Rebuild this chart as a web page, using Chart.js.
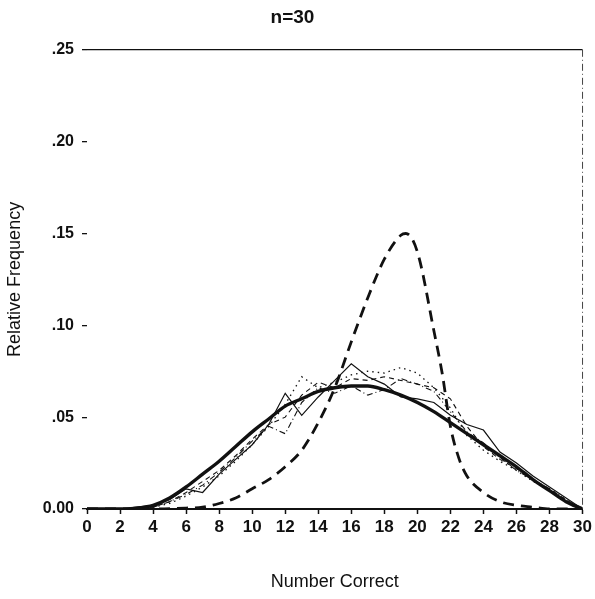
<!DOCTYPE html>
<html>
<head>
<meta charset="utf-8">
<script src="https://cdn.jsdelivr.net/npm/chart.js@4/dist/chart.umd.min.js"></script>
<style>
  html, body { margin: 0; padding: 0; background: #fff; }
  #wrap { width: 595px; height: 599px; }
</style>
</head>
<body>
<div id="wrap"><canvas id="chart" width="595" height="599"></canvas></div>
<script>
// number correct 0..30
var correct = [0,1,2,3,4,5,6,7,8,9,10,11,12,13,14,15,16,17,18,19,20,21,22,23,24,25,26,27,28,29,30];

// smooth fitted curve (thick solid)
var fitted = [0,0,0,0.0005,0.002,0.006,0.012,0.019,0.026,0.034,0.042,0.049,0.056,0.060,0.064,0.066,0.067,0.067,0.065,0.062,0.058,0.053,0.047,0.041,0.035,0.029,0.023,0.016,0.010,0.004,0];

// peaked curve (thick dashed)
var peakX = [0,2,4,6,7,8,9,10,11,12,13,14,15,16,17,18,19,19.3,20,21,21.5,22,22.5,23,24,25,26,27,28,30];
var peakY = [0,0,0,0.0005,0.001,0.003,0.006,0.011,0.016,0.023,0.032,0.047,0.066,0.091,0.115,0.136,0.149,0.150,0.140,0.097,0.074,0.045,0.028,0.018,0.009,0.004,0.002,0.001,0,0];

// observed runs (thin lines)
var obsSolid = [0,0,0,0.001,0.002,0.005,0.011,0.009,0.019,0.027,0.035,0.046,0.063,0.051,0.061,0.070,0.079,0.072,0.068,0.061,0.060,0.058,0.051,0.046,0.043,0.031,0.025,0.018,0.012,0.006,0];
var obsDashDot = [0,0,0,0,0.001,0.004,0.008,0.013,0.020,0.028,0.037,0.045,0.041,0.058,0.066,0.063,0.067,0.062,0.065,0.071,0.068,0.064,0.053,0.042,0.036,0.028,0.021,0.016,0.010,0.004,0];
var obsDotted = [0,0,0,0,0.001,0.003,0.007,0.012,0.018,0.026,0.035,0.045,0.057,0.072,0.066,0.069,0.073,0.075,0.074,0.077,0.074,0.066,0.055,0.040,0.032,0.026,0.021,0.015,0.011,0.005,0];
var obsDashed = [0,0,0,0,0.001,0.004,0.009,0.015,0.021,0.029,0.038,0.046,0.050,0.062,0.069,0.066,0.071,0.070,0.072,0.070,0.068,0.066,0.060,0.045,0.034,0.027,0.022,0.016,0.011,0.005,0];

var yTicks = [0, 0.05, 0.10, 0.15, 0.20, 0.25];
var yTickText = ['0.00', '.05', '.10', '.15', '.20', '.25'];

function pts(xs, ys) {
    var out = [];
    for (var i = 0; i < xs.length; i++) out.push({x: xs[i], y: ys[i]});
    return out;
}

var ink = '#111';

// dash-dot frame line on the right edge of the plot
var rightEdge = {
    id: 'rightEdge',
    afterDatasetsDraw: function(chart) {
        var a = chart.chartArea, c = chart.ctx;
        c.save();
        c.strokeStyle = '#444';
        c.lineWidth = 1;
        c.setLineDash([7, 3, 1, 3]);
        c.beginPath();
        c.moveTo(a.right, a.top);
        c.lineTo(a.right, a.bottom);
        c.stroke();
        c.restore();
    }
};

new Chart(document.getElementById('chart'), {
    type: 'line',
    data: {
        datasets: [
            {data: pts(correct, obsSolid), borderColor: ink, borderWidth: 1.2, tension: 0},
            {data: pts(correct, obsDashDot), borderColor: ink, borderWidth: 1.1, borderDash: [6, 3, 1, 3], tension: 0},
            {data: pts(correct, obsDotted), borderColor: ink, borderWidth: 1.3, borderDash: [1.5, 4], tension: 0},
            {data: pts(correct, obsDashed), borderColor: ink, borderWidth: 1.1, borderDash: [5, 4], tension: 0},
            {data: pts(peakX, peakY), borderColor: ink, borderWidth: 2.8, borderDash: [11, 7], cubicInterpolationMode: 'monotone'},
            {data: pts(correct, fitted), borderColor: ink, borderWidth: 3.4, cubicInterpolationMode: 'monotone'}
        ]
    },
    options: {
        responsive: false,
        animation: false,
        layout: {padding: {left: 0, right: 10, top: 0, bottom: 0}},
        elements: {point: {radius: 0}, line: {fill: false}},
        plugins: {
            legend: {display: false},
            tooltip: {enabled: false},
            title: {
                display: true,
                text: 'n=30',
                color: ink,
                font: {family: 'Liberation Sans', size: 19, weight: 'bold'},
                padding: {top: 6, bottom: 21}
            }
        },
        scales: {
            x: {
                type: 'linear',
                min: 0,
                max: 30,
                border: {display: true, color: ink, width: 2},
                grid: {drawOnChartArea: false, tickLength: 5, tickColor: ink, tickWidth: 1.5},
                ticks: {
                    stepSize: 2,
                    color: ink,
                    padding: 3,
                    maxRotation: 0,
                    font: {family: 'Liberation Sans', size: 17, weight: 'bold'}
                },
                title: {
                    display: true,
                    text: 'Number Correct',
                    color: ink,
                    font: {family: 'Liberation Sans', size: 18},
                    padding: {top: 4, bottom: 6}
                },
                afterFit: function(s) { s.height = 90; }
            },
            y: {
                min: 0,
                max: 0.25,
                border: {display: false},
                afterBuildTicks: function(s) {
                    s.ticks = yTicks.map(function(v) { return {value: v}; });
                },
                grid: {
                    drawOnChartArea: true,
                    color: function(ctx) { return ctx.tick && ctx.tick.value === 0.25 ? ink : 'rgba(0,0,0,0)'; },
                    lineWidth: 1.3,
                    tickLength: 5,
                    tickColor: ink
                },
                ticks: {
                    color: ink,
                    padding: 8,
                    font: {family: 'Liberation Sans', size: 16, weight: 'bold'},
                    callback: function(v) {
                        var i = yTicks.indexOf(v);
                        return i >= 0 ? yTickText[i] : '';
                    }
                },
                title: {
                    display: true,
                    text: 'Relative Frequency',
                    color: ink,
                    font: {family: 'Liberation Sans', size: 18},
                    padding: {top: 4, bottom: 0}
                },
                afterFit: function(s) { s.width = 87; }
            }
        }
    },
    plugins: [rightEdge]
});
</script>
</body>
</html>
